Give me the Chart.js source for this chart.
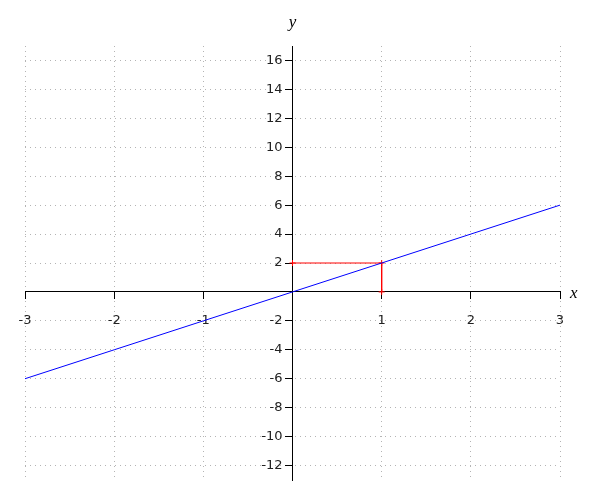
<!DOCTYPE html>
<html><head><meta charset="utf-8">
<script src="https://cdn.jsdelivr.net/npm/chart.js@4/dist/chart.umd.min.js"></script>
<style>html,body{margin:0;padding:0;background:#fff}</style>
</head><body>
<canvas id="c" width="600" height="500"></canvas>
<script>
// Data
const lineX = [-3, -2, -1, 0, 1, 2, 3];
const lineY = [-6, -4, -2, 0, 2, 4, 6];
const markX = [0, 1, 1];
const markY = [2, 2, 0];
const xTicks = [-3, -2, -1, 0, 1, 2, 3];
const yTicks = [-12, -10, -8, -6, -4, -2, 0, 2, 4, 6, 8, 10, 12, 14, 16];
const xRange = [-3, 3];
const yRange = [-13, 17];
const xTitle = 'x';
const yTitle = 'y';

const tickFont = {family: '"DejaVu Sans", sans-serif', size: 13};
const gridOpts = {
  color: '#b4b4b4',
  lineWidth: 1,
  drawTicks: true,
  tickLength: 7,
  tickColor: '#000',
  tickBorderDash: [],
  tickWidth: 1
};
const borderOpts = {display: true, color: '#000', width: 1, dash: [1, 4]};

const yLabelShift = {
  id: 'yLabelShift',
  beforeDraw(chart) {
    const s = chart.scales.y;
    const items = s.getLabelItems(chart.chartArea);
    items.forEach(it => { it.options.translation[0] -= 10; });
  }
};

const axisTitles = {
  id: 'axisTitles',
  afterDraw(chart) {
    const {ctx, scales: {x, y}} = chart;
    ctx.save();
    ctx.font = 'italic 17px "Liberation Serif", serif';
    ctx.fillStyle = '#000';
    ctx.textBaseline = 'alphabetic';
    ctx.textAlign = 'center';
    ctx.fillText(yTitle, x.getPixelForValue(0), 27);
    ctx.textAlign = 'left';
    ctx.fillText(xTitle, x.right + 10, y.getPixelForValue(0) + 6);
    ctx.restore();
  }
};

new Chart(document.getElementById('c'), {
  type: 'scatter',
  data: {
    datasets: [
      {
        data: lineX.map((v, i) => ({x: v, y: lineY[i]})),
        showLine: true,
        borderColor: '#0000ff',
        borderWidth: 1,
        pointRadius: 0,
        pointHoverRadius: 0
      },
      {
        data: markX.map((v, i) => ({x: v, y: markY[i]})),
        showLine: true,
        borderColor: '#ff0000',
        backgroundColor: '#ff0000',
        borderWidth: 1,
        pointStyle: 'cross',
        pointRadius: 3,
        pointBorderWidth: 1,
        pointBorderColor: '#ff0000'
      }
    ]
  },
  options: {
    responsive: false,
    animation: false,
    devicePixelRatio: 1,
    layout: {padding: {left: 25, right: 40, top: 46, bottom: 20}},
    plugins: {legend: {display: false}, tooltip: {enabled: false}},
    scales: {
      x: {
        type: 'linear',
        min: xRange[0], max: xRange[1],
        position: {y: 0},
        afterBuildTicks(s) { s.ticks = xTicks.map(v => ({value: v})); },
        ticks: {
          font: tickFont, color: '#222', padding: 14, maxRotation: 0, autoSkip: false,
          callback: v => v === 0 ? '' : String(v)
        },
        grid: gridOpts,
        border: borderOpts
      },
      y: {
        type: 'linear',
        min: yRange[0], max: yRange[1],
        position: {x: 0},
        afterBuildTicks(s) { s.ticks = yTicks.map(v => ({value: v})); },
        ticks: {
          font: tickFont, color: '#222', padding: 3, autoSkip: false,
          callback: v => v === 0 ? '' : String(v)
        },
        grid: gridOpts,
        border: borderOpts
      }
    }
  },
  plugins: [yLabelShift, axisTitles]
});
</script>
</body></html>
